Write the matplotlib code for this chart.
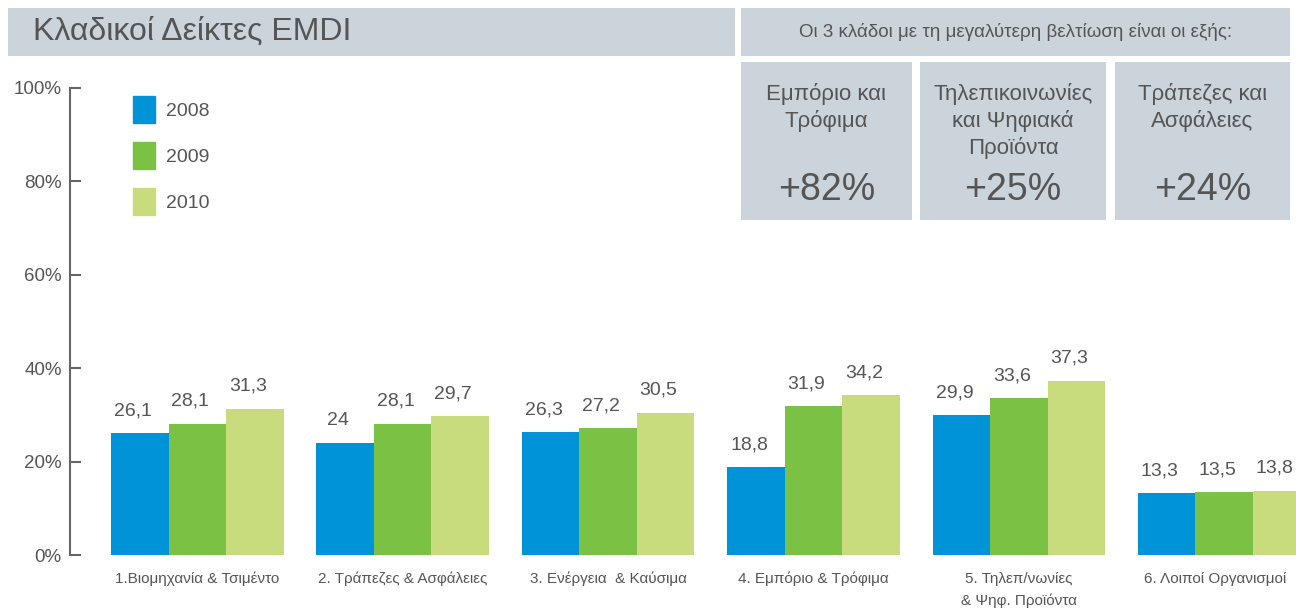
import numpy as np
import matplotlib.pyplot as plt
from matplotlib.patches import Rectangle, Patch

plt.rcParams['font.family'] = ['Liberation Sans', 'DejaVu Sans']

# data
sectors = ["1.Βιομηχανία & Τσιμέντο", "2. Τράπεζες & Ασφάλειες", "3. Ενέργεια  & Καύσιμα",
           "4. Εμπόριο & Τρόφιμα", "5. Τηλεπ/νωνίες\n& Ψηφ. Προϊόντα", "6. Λοιποί Οργανισμοί"]
years = ["2008", "2009", "2010"]
v2008 = [26.1, 24.0, 26.3, 18.8, 29.9, 13.3]
v2009 = [28.1, 28.1, 27.2, 31.9, 33.6, 13.5]
v2010 = [31.3, 29.7, 30.5, 34.2, 37.3, 13.8]
top_names = ["Εμπόριο και\nΤρόφιμα", "Τηλεπικοινωνίες\nκαι Ψηφιακά\nΠροϊόντα", "Τράπεζες και\nΑσφάλειες"]
top_gains = ["+82%", "+25%", "+24%"]

colors = ["#0093d8", "#7bc143", "#c8dc7e"]
grey = "#555555"
band = "#cbd3db"

fig = plt.figure(figsize=(12.96, 6.10), dpi=100)
W, H = 1296, 610

def fbox(x0, y0, x1, y1):
    # pixel box (top-left origin) -> figure fraction rectangle
    return Rectangle((x0 / W, 1 - y1 / H), (x1 - x0) / W, (y1 - y0) / H,
                     transform=fig.transFigure, color=band, lw=0, zorder=0)

# header bands
fig.add_artist(fbox(8, 8, 735, 56))
fig.text(33 / W, 1 - 32 / H, "Κλαδικοί Δείκτες EMDI", fontsize=23, color=grey, va="center")
fig.add_artist(fbox(741, 8, 1290, 56))
fig.text(1016 / W, 1 - 32 / H, "Οι 3 κλάδοι με τη μεγαλύτερη βελτίωση είναι οι εξής:",
         fontsize=13.5, color=grey, va="center", ha="center")

boxes = [(741, 912), (920, 1106), (1115, 1290)]
for (x0, x1), name, gain in zip(boxes, top_names, top_gains):
    fig.add_artist(fbox(x0, 62, x1, 220))
    cx = (x0 + x1) / 2 / W
    fig.text(cx, 1 - 83 / H, name, fontsize=16, color=grey, ha="center", va="top",
             linespacing=1.3)
    fig.text(cx, 1 - 190 / H, gain, fontsize=27, color=grey, ha="center", va="center")

# main axes
ax = fig.add_axes([70 / W, 55 / H, 1 - 70 / W, (555 - 88) / H])
ax.patch.set_visible(False)
x = np.arange(len(sectors))
w = 0.28
for i, (vals, c, lab) in enumerate(zip([v2008, v2009, v2010], colors, years)):
    pos = x + (i - 1) * w
    ax.bar(pos, vals, w, color=c, label=lab, lw=0)
    for px, v in zip(pos, vals):
        ax.annotate(f"{v:g}".replace(".", ","), (px, v), xytext=(-5, 10),
                    textcoords="offset points", ha="center", va="bottom",
                    fontsize=14, color=grey)

ax.set_xlim(-0.62, 5.35)
ax.set_ylim(0, 100)
ax.set_yticks(np.arange(0, 101, 20))
ax.set_yticklabels([f"{t}%" for t in range(0, 101, 20)])
# last label nudged left so it fits inside the figure
ax.set_xticks(x - np.array([0, 0, 0, 0, 0, 0.045]))
ax.set_xticklabels(sectors, fontsize=11, color=grey, linespacing=1.7)
ax.tick_params(axis="x", length=0, pad=12)
ax.tick_params(axis="y", direction="in", length=8, width=1.5, color="#666666",
               labelsize=13.5, labelcolor=grey, pad=6)
for s in ["top", "right", "bottom"]:
    ax.spines[s].set_visible(False)
ax.spines["left"].set_color("#666666")
ax.spines["left"].set_linewidth(1.5)

handles = [Patch(color=c) for c in colors]
ax.legend(handles, years, loc="upper left", bbox_to_anchor=(0.045, 1.0), frameon=False,
          fontsize=14, labelcolor=grey, handlelength=1.15, handleheight=1.75,
          labelspacing=1.0, handletextpad=0.55, borderaxespad=0)

fig.savefig("out.png", dpi=100)
